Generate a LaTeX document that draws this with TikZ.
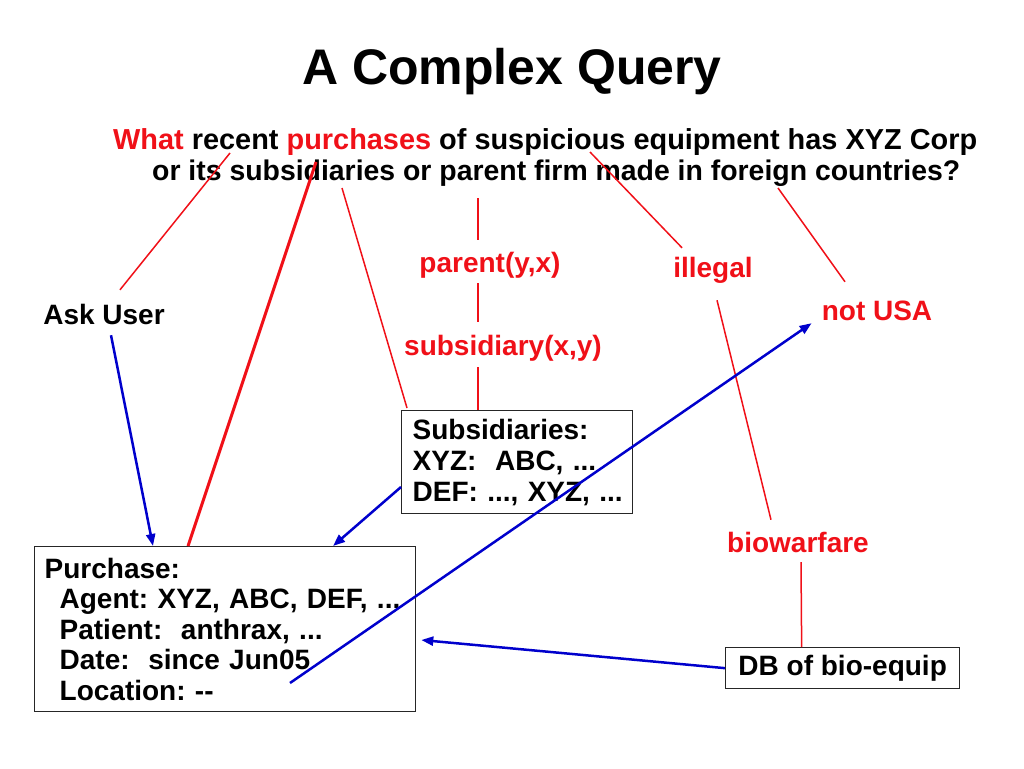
\documentclass[tikz,border=0pt]{standalone}
\usepackage{fontspec}
\setmainfont{Liberation Sans}
\usetikzlibrary{arrows.meta}
\definecolor{qred}{RGB}{240,16,24}
\definecolor{qblue}{RGB}{0,0,204}
\frenchspacing
\begin{document}
\frenchspacing
\begin{tikzpicture}[x=1pt,y=-1pt,
  lbl/.style={font=\fontsize{28}{31}\selectfont\bfseries, inner sep=3pt, text height=20pt, text depth=6pt, anchor=base},
  redlbl/.style={lbl, text=qred},
  qtext/.style={inner sep=0pt, anchor=base west},
  boxed/.style={draw=black!85, line width=1.3pt, font=\fontsize{28}{31}\selectfont\bfseries, anchor=north west},
  redline/.style={draw=qred, line width=1.5pt},
  thickred/.style={draw=qred, line width=3pt},
  bluearrow/.style={draw=qblue, line width=2.5pt, -{Triangle[length=12pt,width=9pt]}},
]
\useasboundingbox (0,0) rectangle (1024,768);

% title
\node[font=\fontsize{50}{60}\selectfont\bfseries, anchor=base, inner sep=0pt] (title) at (512,84) {A Complex Query};

% question
\node[qtext, font=\fontsize{28.9}{34}\selectfont\bfseries] (q1) at (113,149) {\textcolor{qred}{What} recent \textcolor{qred}{purchases} of suspicious equipment has XYZ Corp};
\node[qtext, font=\fontsize{28.4}{34}\selectfont\bfseries] (q2) at (152,180) {or its subsidiaries or parent firm made in foreign countries?};

\coordinate (qa) at (230,153);
\coordinate (qb) at (316,162);
\coordinate (qc) at (342,188);
\coordinate (qd) at (478,198);
\coordinate (qe) at (590,152);
\coordinate (qf) at (778,188);

% labels
\node[lbl] (ask) at (104,324) {Ask User};
\node[redlbl] (parent) at (490,272) {parent(y,x)};
\node[redlbl] (subsid) at (503,355) {subsidiary(x,y)};
\node[redlbl] (illegal) at (713,277) {illegal};
\node[redlbl] (notusa) at (877,320) {not USA};
\node[redlbl] (bio) at (798,552) {biowarfare};

% boxes
\node[boxed, text width=209pt, inner xsep=11pt, inner ysep=0pt, minimum height=103pt, align=left] (subs) at (401,410)
  {\mbox{Subsidiaries:}\\\mbox{XYZ:\ \ ABC, ...}\\\mbox{DEF: ..., XYZ, ...}};
\node[boxed, text width=361pt, inner xsep=10pt, inner ysep=0pt, minimum height=165pt, align=left, font=\fontsize{28}{30.5}\selectfont\bfseries] (purch) at (34,546)
  {\mbox{Purchase:}\\\mbox{\hspace*{15pt}Agent: XYZ, ABC, DEF, ...}\\\mbox{\hspace*{15pt}Patient:\ \ anthrax, ...}\\\mbox{\hspace*{15pt}Date:\ \ since Jun05}\\\mbox{\hspace*{15pt}Location: -{}-}};
\node[boxed, minimum width=234pt, minimum height=41pt, inner sep=0pt, align=center] (db) at (725,647) {DB of bio-equip};

% red connectors
\draw[redline] (qa) -- ([xshift=16pt,yshift=11pt]ask.north);
\draw[thickred] (qb) -- ([xshift=154pt]purch.north west);
\draw[redline] (qc) -- ([xshift=6pt,yshift=2pt]subs.north west);
\draw[redline] (qd) -- ([xshift=-12pt,yshift=9pt]parent.north);
\draw[redline] ([xshift=-12pt,yshift=-2pt]parent.south) -- ([xshift=-25pt,yshift=10pt]subsid.north);
\draw[redline] ([xshift=-25pt,yshift=-3pt]subsid.south) -- (subs.north -| qd);
\draw[redline] (qe) -- ([xshift=-31pt,yshift=6pt]illegal.north);
\draw[redline] (qf) -- ([xshift=-32pt,yshift=15pt]notusa.north);
\draw[redline] ([xshift=4pt,yshift=-14pt]illegal.south) -- ([xshift=-27pt,yshift=9pt]bio.north);
\draw[redline] ([xshift=3pt,yshift=-1pt]bio.south) -- ([xshift=-41pt]db.north);

% blue arrows
\draw[bluearrow] ([xshift=7pt,yshift=-2pt]ask.south) -- ([xshift=119pt]purch.north west);
\draw[bluearrow] ([yshift=-77pt]subs.north west) -- ([xshift=299pt]purch.north west);
\draw[bluearrow] ([xshift=256pt,yshift=-137pt]purch.north west) -- ([xshift=-7pt,yshift=6pt]notusa.south west);
\draw[bluearrow] (db.west) -- ([xshift=5pt,yshift=-94pt]purch.north east);
\end{tikzpicture}
\end{document}
